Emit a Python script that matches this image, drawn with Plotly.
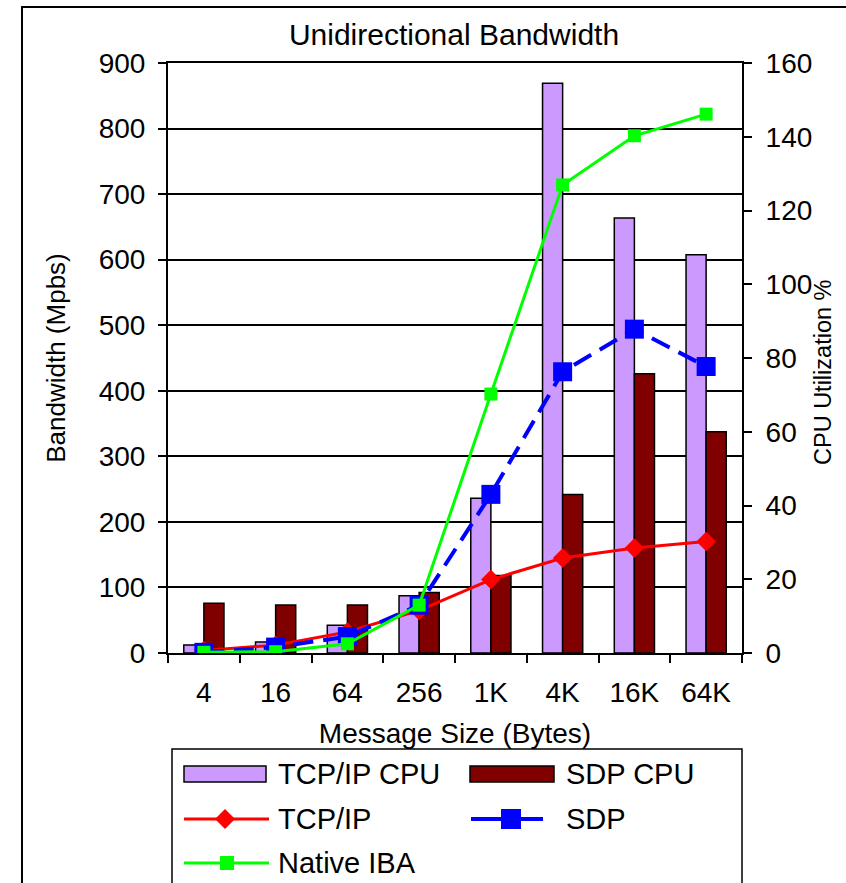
import plotly.graph_objects as go

# Message sizes on the category axis
sizes = ["4", "16", "64", "256", "1K", "4K", "16K", "64K"]

# CPU utilization (%), right axis
tcp_cpu = [2.2, 3.0, 7.5, 15.5, 42.0, 154.5, 118.0, 108.0]
sdp_cpu = [13.5, 13.0, 13.0, 16.4, 21.0, 43.0, 75.7, 60.0]

# Bandwidth (Mbps), left axis
tcp_bw = [4, 12, 32, 65, 112, 145, 160, 170]
sdp_bw = [1, 9, 25, 73, 242, 429, 494, 437]
iba_bw = [1, 2, 14, 73, 395, 714, 789, 822]

legend_labels = ["TCP/IP CPU", "SDP CPU", "TCP/IP", "SDP", "Native IBA"]

FONT = "Liberation Sans, Arial, sans-serif"
W, H = 846, 883
L, R, T, B = 168, 104, 63, 230
PW, PH = W - L - R, H - T - B


def px(x):
    return (x - L) / PW


def py(y):
    return (H - B - y) / PH


LAV = "#CC99FF"
MAROON = "#800000"
RED = "#FF0000"
BLUE = "#0000FF"
GREEN = "#00FF00"

fig = go.Figure()

# CPU bars on the base (right-hand) axis
fig.add_trace(go.Bar(x=sizes, y=tcp_cpu, name=legend_labels[0], yaxis="y",
                     marker=dict(color=LAV, line=dict(color="black", width=1.5)),
                     showlegend=False))
fig.add_trace(go.Bar(x=sizes, y=sdp_cpu, name=legend_labels[1], yaxis="y",
                     marker=dict(color=MAROON, line=dict(color="black", width=1.5)),
                     showlegend=False))

# Bandwidth lines on the overlaying (left-hand) axis, drawn above the bars
fig.add_trace(go.Scatter(x=sizes, y=tcp_bw, name=legend_labels[2], yaxis="y2",
                         mode="lines+markers",
                         line=dict(color=RED, width=3),
                         marker=dict(symbol="diamond", size=15, color=RED),
                         showlegend=False))
fig.add_trace(go.Scatter(x=sizes, y=sdp_bw, name=legend_labels[3], yaxis="y2",
                         mode="lines+markers",
                         line=dict(color=BLUE, width=4, dash="20px,10px"),
                         marker=dict(symbol="square", size=19, color=BLUE),
                         showlegend=False))
fig.add_trace(go.Scatter(x=sizes, y=iba_bw, name=legend_labels[4], yaxis="y2",
                         mode="lines+markers",
                         line=dict(color=GREEN, width=3),
                         marker=dict(symbol="square", size=13, color=GREEN),
                         showlegend=False))

tickfont = dict(family=FONT, size=28, color="black")

shapes = []
annotations = []

# Outer chart frame
shapes.append(dict(type="rect", xref="paper", yref="paper",
                   x0=px(22), x1=px(870), y0=py(900), y1=py(7),
                   line=dict(color="black", width=2), fillcolor="rgba(0,0,0,0)",
                   layer="below"))

# Legend box
shapes.append(dict(type="rect", xref="paper", yref="paper",
                   x0=px(172), x1=px(742), y0=py(900), y1=py(749),
                   line=dict(color="black", width=1.5), fillcolor="white"))

legend_font = dict(family=FONT, size=29, color="black")

# Legend entries: bar swatches
for (x0, x1, color, label, tx) in [
    (184, 266, LAV, legend_labels[0], 276),
    (470, 554, MAROON, legend_labels[1], 564),
]:
    shapes.append(dict(type="rect", xref="paper", yref="paper",
                       x0=px(x0), x1=px(x1), y0=py(782), y1=py(766),
                       line=dict(color="black", width=1.5), fillcolor=color))
    annotations.append(dict(x=px(tx), y=py(774), xref="paper", yref="paper",
                            text=label, showarrow=False, xanchor="left",
                            yanchor="middle", font=legend_font))


# Legend entries: line samples with their markers
def diamond_path(cx, cy, r):
    return (f"M {px(cx - r)} {py(cy)} L {px(cx)} {py(cy - r)} "
            f"L {px(cx + r)} {py(cy)} L {px(cx)} {py(cy + r)} Z")


line_items = [
    (184, 269, 819, RED, 3, legend_labels[2], 276, ("diamond", 225, 10)),
    (471, 543, 819, BLUE, 4, legend_labels[3], 564, ("square", 511, 10)),
    (184, 269, 863, GREEN, 3, legend_labels[4], 276, ("square", 227, 7)),
]
for (x0, x1, yy, color, w, label, tx, (sym, cx, r)) in line_items:
    shapes.append(dict(type="line", xref="paper", yref="paper",
                       x0=px(x0), x1=px(x1), y0=py(yy), y1=py(yy),
                       line=dict(color=color, width=w)))
    if sym == "diamond":
        shapes.append(dict(type="path", xref="paper", yref="paper",
                           path=diamond_path(cx, yy, r), fillcolor=color,
                           line=dict(color=color, width=0)))
    else:
        shapes.append(dict(type="rect", xref="paper", yref="paper",
                           x0=px(cx - r), x1=px(cx + r), y0=py(yy + r), y1=py(yy - r),
                           fillcolor=color, line=dict(color=color, width=0)))
    annotations.append(dict(x=px(tx), y=py(yy), xref="paper", yref="paper",
                            text=label, showarrow=False, xanchor="left",
                            yanchor="middle", font=legend_font))

# Right-hand axis title
annotations.append(dict(x=px(823), y=py(372), xref="paper", yref="paper",
                        text="CPU Utilization %", showarrow=False, textangle=-90,
                        xanchor="center", yanchor="middle",
                        font=dict(family=FONT, size=23.5, color="black")))

fig.update_layout(
    width=W, height=H,
    margin=dict(l=L, r=R, t=T, b=B, pad=0),
    paper_bgcolor="white", plot_bgcolor="white",
    font=dict(family=FONT, color="black"),
    title=dict(text="Unidirectional Bandwidth", xref="container", x=454 / W,
               xanchor="center", yref="container", y=1 - 34 / H, yanchor="middle",
               font=dict(family=FONT, size=30, color="black")),
    barmode="group", bargap=0.44, bargroupgap=0,
    showlegend=False,
    xaxis=dict(type="category", range=[-0.5, 7.5], tickson="boundaries",
               ticks="outside", ticklen=8, tickwidth=1.5, tickcolor="black",
               showline=True, linecolor="black", linewidth=2, mirror=True,
               showgrid=False, tickfont=tickfont, ticklabelstandoff=13,
               title=dict(text="Message Size (Bytes)",
                          font=dict(family=FONT, size=28, color="black"),
                          standoff=17)),
    yaxis=dict(side="right", range=[0, 160], dtick=20, showgrid=False,
               zeroline=False, ticks="outside", ticklen=8, tickwidth=1.5,
               tickcolor="black", showline=True, linecolor="black", linewidth=2,
               tickfont=tickfont, ticklabelstandoff=8),
    yaxis2=dict(side="left", overlaying="y", anchor="x", range=[0, 900], dtick=100,
                showgrid=True, gridcolor="black", gridwidth=1.5, zeroline=False,
                ticks="outside", ticklen=8, tickwidth=1.5, tickcolor="black",
                showline=True, linecolor="black", linewidth=2,
                tickfont=tickfont, ticklabelstandoff=7,
                title=dict(text="Bandwidth (Mpbs)",
                           font=dict(family=FONT, size=26, color="black"),
                           standoff=26)),
    shapes=shapes,
    annotations=annotations,
)

fig.write_html("out.html")
